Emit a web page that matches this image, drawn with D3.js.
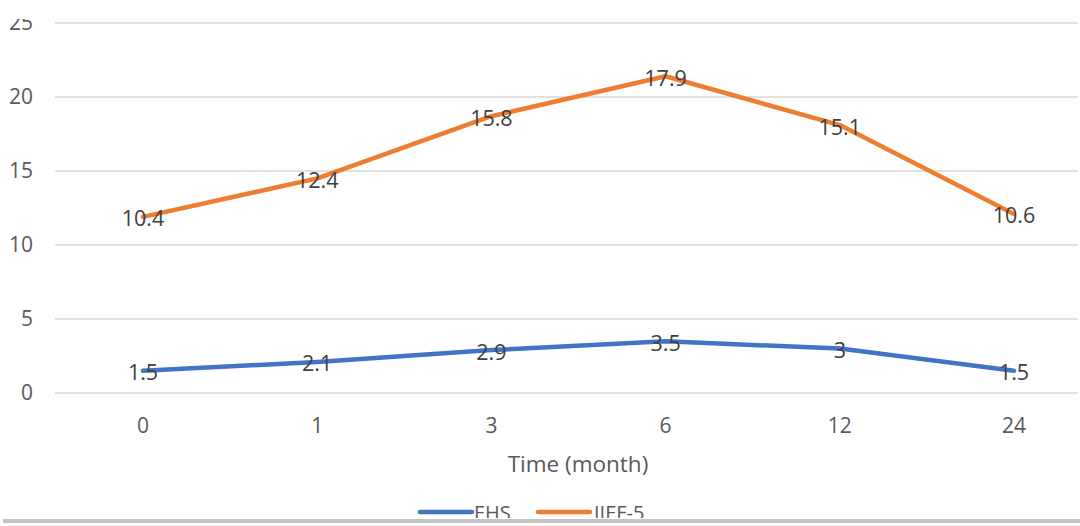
<!DOCTYPE html>
<html><head><meta charset="utf-8">
<script src="https://cdn.jsdelivr.net/npm/d3@7"></script>
<style>body{margin:0;background:#fff;}svg{display:block;font-family:"Open Sans",sans-serif;}</style>
</head><body>
<svg id="c" width="1080" height="526"></svg>
<script>
const categories = ["0","1","3","6","12","24"];
const ehs = [1.5, 2.1, 2.9, 3.5, 3, 1.5];
const iief5 = [10.4, 12.4, 15.8, 17.9, 15.1, 10.6];
const yTicks = [0, 5, 10, 15, 20, 25];
const seriesNames = ["EHS", "IIEF-5"];
const colors = ["#4472C4", "#ED7D31"];

const svg = d3.select("#c");
const x = d3.scalePoint().domain(categories).range([143, 1014]);
const y = d3.scaleLinear().domain([0, 25]).range([393, 23]);

// stacked line (cumulative)
const rows = categories.map((c, i) => ({cat: c, EHS: ehs[i], "IIEF-5": iief5[i]}));
const stacked = d3.stack().keys(seriesNames)(rows);

// gridlines
svg.append("g").selectAll("line").data(yTicks).join("line")
  .attr("x1", 55).attr("x2", 1078)
  .attr("y1", d => y(d)).attr("y2", d => y(d))
  .attr("stroke", "#d9d9d9").attr("stroke-width", 1.5);

// y tick labels
svg.append("g").selectAll("text").data(yTicks).join("text")
  .attr("x", 33).attr("y", d => y(d)).attr("dy", "0.35em")
  .attr("text-anchor", "end").attr("fill", "#595959").attr("font-size", 21)
  .text(d => d);

// x tick labels
svg.append("g").selectAll("text").data(categories).join("text")
  .attr("x", d => x(d)).attr("y", 426).attr("dy", "0.35em")
  .attr("text-anchor", "middle").attr("fill", "#595959").attr("font-size", 21)
  .text(d => d);

// axis title
svg.append("text").attr("x", 578).attr("y", 464).attr("dy", "0.35em")
  .attr("text-anchor", "middle").attr("fill", "#595959").attr("font-size", 22.5)
  .text("Time (month)");

const line = d3.line().x(d => x(d.data.cat)).y(d => y(d[1]));
stacked.forEach((s, k) => {
  svg.append("path").datum(s).attr("d", line)
    .attr("fill", "none").attr("stroke", colors[k]).attr("stroke-width", 4.5)
    .attr("stroke-linejoin", "round").attr("stroke-linecap", "round");
});
stacked.forEach((s, k) => {
  svg.append("g").selectAll("text").data(s).join("text")
    .attr("x", d => x(d.data.cat)).attr("y", d => y(d[1]) + 2).attr("dy", "0.35em")
    .attr("text-anchor", "middle").attr("fill", "#404040").attr("font-size", 21.5)
    .text(d => d.data[s.key]);
});

// legend
const legend = [{x: 420, tx: 474}, {x: 538, tx: 594}];
seriesNames.forEach((n, k) => {
  svg.append("line").attr("x1", legend[k].x).attr("x2", legend[k].x + 52)
    .attr("y1", 512).attr("y2", 512).attr("stroke", colors[k]).attr("stroke-width", 4.5)
    .attr("stroke-linecap", "round");
  svg.append("text").attr("x", legend[k].tx).attr("y", 513).attr("dy", "0.35em")
    .attr("fill", "#595959").attr("font-size", 20).text(n);
});

// cropping artifacts: top cut and bottom gray bar
svg.append("rect").attr("x", 0).attr("y", 0).attr("width", 1080).attr("height", 19).attr("fill", "#fff");
svg.append("rect").attr("x", 0).attr("y", 518).attr("width", 1080).attr("height", 8).attr("fill", "#fff");
svg.append("rect").attr("x", 3).attr("y", 519).attr("width", 1077).attr("height", 4).attr("fill", "#c4c4c4");
</script>
</body></html>
